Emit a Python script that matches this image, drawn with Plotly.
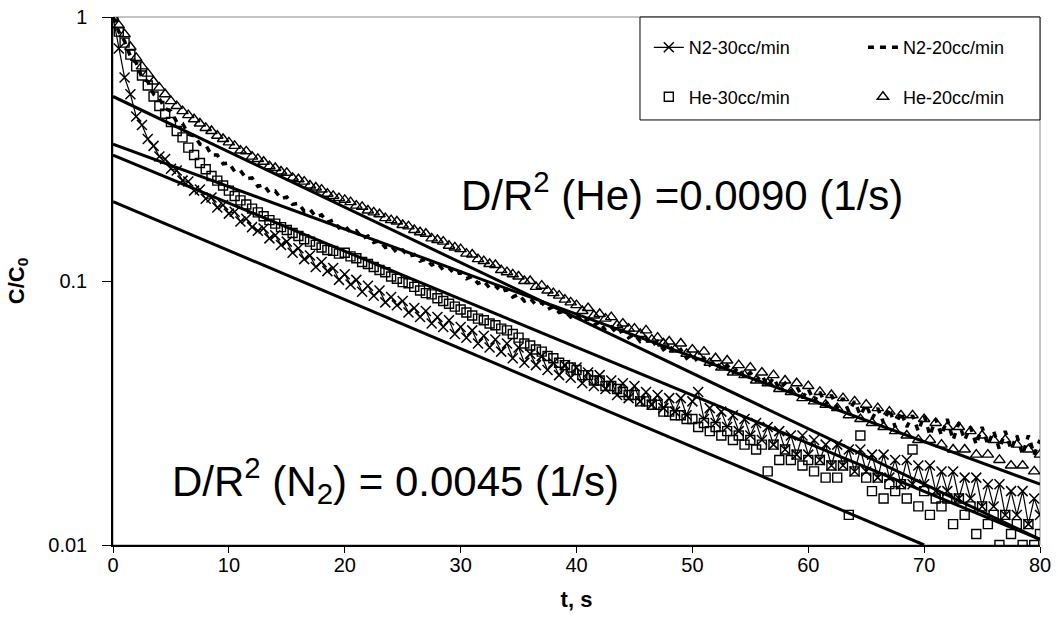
import plotly.graph_objects as go

# ---------------- data ----------------
t = [0, 0.5, 1, 1.5, 2, 2.5, 3, 3.5, 4, 4.5, 5, 5.5, 6, 6.5, 7, 7.5, 8, 8.5, 9, 9.5,
     10, 10.5, 11, 11.5, 12, 12.5, 13, 13.5, 14, 14.5, 15, 15.5, 16, 16.5, 17, 17.5, 18, 18.5, 19, 19.5,
     20, 20.5, 21, 21.5, 22, 22.5, 23, 23.5, 24, 24.5, 25, 25.5, 26, 26.5, 27, 27.5, 28, 28.5, 29, 29.5,
     30, 30.5, 31, 31.5, 32, 32.5, 33, 33.5, 34, 34.5, 35, 35.5, 36, 36.5, 37, 37.5, 38, 38.5, 39, 39.5,
     40, 40.5, 41, 41.5, 42, 42.5, 43, 43.5, 44, 44.5, 45, 45.5, 46, 46.5, 47, 47.5, 48, 48.5, 49, 49.5,
     50, 50.5, 51, 51.5, 52, 52.5, 53, 53.5, 54, 54.5, 55, 55.5, 56, 56.5, 57, 57.5, 58, 58.5, 59, 59.5,
     60, 60.5, 61, 61.5, 62, 62.5, 63, 63.5, 64, 64.5, 65, 65.5, 66, 66.5, 67, 67.5, 68, 68.5, 69, 69.5,
     70, 70.5, 71, 71.5, 72, 72.5, 73, 73.5, 74, 74.5, 75, 75.5, 76, 76.5, 77, 77.5, 78, 78.5, 79, 79.5,
     80]

n2_30 = [1.00, 0.76, 0.59, 0.51, 0.42, 0.39, 0.345, 0.325, 0.296, 0.29,
         0.266, 0.262, 0.24, 0.238, 0.22, 0.222, 0.205, 0.207, 0.19, 0.194,
         0.18, 0.183, 0.168, 0.172, 0.16, 0.155, 0.158, 0.145, 0.149, 0.137,
         0.141, 0.128, 0.133, 0.121, 0.125, 0.113, 0.118, 0.109, 0.112, 0.101,
         0.106, 0.097, 0.101, 0.091, 0.096, 0.088, 0.092, 0.083, 0.087, 0.081,
         0.084, 0.076, 0.079, 0.073, 0.077, 0.069, 0.073, 0.067, 0.071, 0.063,
         0.067, 0.061, 0.065, 0.058, 0.062, 0.056, 0.060, 0.054, 0.058, 0.051,
         0.056, 0.049, 0.053, 0.048, 0.052, 0.046, 0.049, 0.044, 0.048, 0.043,
         0.047, 0.041, 0.045, 0.040, 0.044, 0.039, 0.042, 0.037, 0.041, 0.036,
         0.040, 0.035, 0.038, 0.034, 0.037, 0.033, 0.036, 0.032, 0.036, 0.031,
         0.035, 0.038, 0.030, 0.033, 0.029, 0.032, 0.028, 0.031, 0.027, 0.030,
         0.026, 0.029, 0.025, 0.028, 0.024, 0.027, 0.023, 0.026, 0.022, 0.026,
         0.022, 0.025, 0.021, 0.024, 0.020, 0.024, 0.020, 0.023, 0.019, 0.023,
         0.019, 0.022, 0.018, 0.022, 0.018, 0.021, 0.017, 0.021, 0.017, 0.020,
         0.017, 0.020, 0.016, 0.019, 0.016, 0.019, 0.015, 0.018, 0.015, 0.018,
         0.014, 0.017, 0.014, 0.017, 0.013, 0.016, 0.013, 0.016, 0.012, 0.015,
         0.013]

n2_20 = [1.00, 0.88, 0.81, 0.71, 0.67, 0.59, 0.57, 0.51, 0.49, 0.45,
         0.44, 0.40, 0.395, 0.36, 0.355, 0.33, 0.327, 0.30, 0.30, 0.278,
         0.28, 0.26, 0.262, 0.244, 0.246, 0.228, 0.232, 0.216, 0.219, 0.205,
         0.208, 0.195, 0.197, 0.184, 0.187, 0.175, 0.178, 0.167, 0.17, 0.159,
         0.162, 0.153, 0.155, 0.145, 0.148, 0.14, 0.142, 0.134, 0.136, 0.128,
         0.131, 0.124, 0.126, 0.119, 0.121, 0.115, 0.117, 0.11, 0.112, 0.106,
         0.108, 0.102, 0.104, 0.098, 0.1, 0.094, 0.096, 0.091, 0.093, 0.087,
         0.089, 0.084, 0.086, 0.081, 0.083, 0.078, 0.08, 0.076, 0.077, 0.073,
         0.075, 0.07, 0.072, 0.068, 0.07, 0.065, 0.067, 0.063, 0.065, 0.061,
         0.063, 0.059, 0.061, 0.057, 0.059, 0.055, 0.057, 0.053, 0.055, 0.051,
         0.053, 0.049, 0.051, 0.048, 0.05, 0.046, 0.048, 0.045, 0.047, 0.043,
         0.045, 0.042, 0.044, 0.04, 0.043, 0.039, 0.041, 0.038, 0.04, 0.036,
         0.039, 0.035, 0.038, 0.034, 0.037, 0.033, 0.036, 0.032, 0.035, 0.031,
         0.034, 0.03, 0.033, 0.029, 0.033, 0.028, 0.032, 0.028, 0.031, 0.027,
         0.031, 0.026, 0.03, 0.026, 0.03, 0.025, 0.029, 0.025, 0.028, 0.024,
         0.028, 0.024, 0.027, 0.023, 0.027, 0.023, 0.026, 0.022, 0.026, 0.022,
         0.025]

he_30 = [1.00, 0.88, 0.80, 0.72, 0.65, 0.60, 0.55, 0.50, 0.46, 0.43,
         0.40, 0.37, 0.35, 0.32, 0.30, 0.28, 0.265, 0.25, 0.24, 0.23,
         0.22, 0.21, 0.202, 0.195, 0.188, 0.182, 0.176, 0.17, 0.165, 0.16,
         0.156, 0.152, 0.148, 0.144, 0.141, 0.137, 0.134, 0.131, 0.130, 0.127,
         0.128, 0.124, 0.122, 0.118, 0.116, 0.113, 0.110, 0.108, 0.104, 0.102,
         0.099, 0.098, 0.095, 0.092, 0.090, 0.089, 0.086, 0.084, 0.082, 0.080,
         0.078, 0.076, 0.074, 0.072, 0.071, 0.069, 0.068, 0.066, 0.065, 0.063,
         0.061, 0.058, 0.057, 0.055, 0.054, 0.052, 0.051, 0.049, 0.048, 0.047,
         0.046, 0.044, 0.044, 0.042, 0.042, 0.040, 0.040, 0.039, 0.038, 0.037,
         0.037, 0.035, 0.035, 0.034, 0.034, 0.032, 0.032, 0.031, 0.031, 0.030,
         0.030, 0.028, 0.029, 0.027, 0.028, 0.026, 0.027, 0.025, 0.026, 0.024,
         0.025, 0.023, 0.024, 0.019, 0.024, 0.021, 0.023, 0.021, 0.022, 0.020,
         0.021, 0.019, 0.021, 0.018, 0.020, 0.018, 0.020, 0.013, 0.019, 0.026,
         0.018, 0.016, 0.018, 0.015, 0.017, 0.016, 0.017, 0.015, 0.023, 0.014,
         0.016, 0.013, 0.015, 0.014, 0.015, 0.012, 0.015, 0.013, 0.014, 0.011,
         0.014, 0.012, 0.013, 0.010, 0.013, 0.011, 0.012, 0.010, 0.012, 0.010,
         0.011]

he_20 = [1.00, 0.93, 0.86, 0.77, 0.70, 0.65, 0.61, 0.57, 0.54, 0.51,
         0.48, 0.46, 0.44, 0.425, 0.41, 0.395, 0.38, 0.37, 0.355, 0.345,
         0.335, 0.325, 0.312, 0.31, 0.296, 0.29, 0.283, 0.272, 0.268, 0.26,
         0.257, 0.246, 0.243, 0.238, 0.23, 0.226, 0.222, 0.214, 0.21, 0.206,
         0.203, 0.199, 0.193, 0.191, 0.185, 0.182, 0.179, 0.173, 0.17, 0.168,
         0.163, 0.161, 0.156, 0.153, 0.151, 0.145, 0.143, 0.141, 0.136, 0.134,
         0.132, 0.127, 0.126, 0.121, 0.119, 0.116, 0.115, 0.11, 0.108, 0.106,
         0.104, 0.1, 0.1, 0.095, 0.096, 0.092, 0.09, 0.088, 0.085, 0.083,
         0.081, 0.077, 0.079, 0.074, 0.075, 0.072, 0.073, 0.068, 0.069, 0.066,
         0.066, 0.063, 0.065, 0.060, 0.061, 0.058, 0.059, 0.055, 0.058, 0.053,
         0.055, 0.052, 0.054, 0.049, 0.051, 0.047, 0.050, 0.045, 0.048, 0.044,
         0.047, 0.042, 0.045, 0.041, 0.044, 0.039, 0.042, 0.038, 0.041, 0.036,
         0.040, 0.035, 0.038, 0.034, 0.037, 0.033, 0.036, 0.031, 0.035, 0.030,
         0.034, 0.029, 0.033, 0.028, 0.032, 0.027, 0.031, 0.026, 0.031, 0.025,
         0.030, 0.025, 0.029, 0.024, 0.028, 0.023, 0.028, 0.023, 0.027, 0.022,
         0.026, 0.022, 0.025, 0.021, 0.025, 0.020, 0.024, 0.020, 0.023, 0.019,
         0.022]

# straight-line fits (start / end points)
fit_t0 = [0, 0, 0, 0]
fit_t1 = [80, 80, 80, 70]
fit_c0 = [0.5, 0.33, 0.30, 0.20]
fit_c1 = [0.0105, 0.017, 0.0105, 0.010]

x_ticks = [0, 10, 20, 30, 40, 50, 60, 70, 80]
y_ticks = [0.01, 0.1, 1]
y_tick_text = ["0.01", "0.1", "1"]

FONT = "Liberation Sans, Arial, sans-serif"

fig = go.Figure()

for a, b, c, d in zip(fit_t0, fit_t1, fit_c0, fit_c1):
    fig.add_trace(go.Scatter(x=[a, b], y=[c, d], mode="lines",
                             line=dict(color="black", width=3),
                             showlegend=False, hoverinfo="skip"))

fig.add_trace(go.Scatter(x=t, y=he_30, mode="markers", name="He-30cc/min",
                         marker=dict(symbol="square-open", size=9, color="black",
                                     line=dict(width=1.4, color="black")),
                         legend="legend", legendgroup="b", legendrank=2))
fig.add_trace(go.Scatter(x=t, y=he_20, mode="markers", name="He-20cc/min",
                         marker=dict(symbol="triangle-up-open", size=10, color="black",
                                     line=dict(width=1.4, color="black")),
                         legend="legend2", legendgroup="d", legendrank=2))
fig.add_trace(go.Scatter(x=t, y=n2_20, mode="lines", name="N2-20cc/min",
                         line=dict(color="black", width=3.5, dash="6px,6px"),
                         legend="legend2", legendgroup="c", legendrank=1))
fig.add_trace(go.Scatter(x=t, y=n2_30, mode="lines+markers", name="N2-30cc/min",
                         line=dict(color="black", width=1.2),
                         marker=dict(symbol="x-thin-open", size=10, color="black",
                                     line=dict(width=1.5, color="black")),
                         legend="legend", legendgroup="a", legendrank=1))

fig.update_layout(
    width=1058, height=630,
    margin=dict(l=113, r=18, t=17, b=85),
    paper_bgcolor="white", plot_bgcolor="white",
    font=dict(family=FONT, color="black", size=20),
    xaxis=dict(range=[0, 80], tickvals=x_ticks, ticks="outside", ticklen=6,
               tickcolor="black", showline=True, linecolor="black", linewidth=1.5,
               showgrid=False, zeroline=False, tickfont=dict(size=20), automargin=False,
               ticklabelstandoff=-5, ticklabeloverflow="allow",
               title=dict(text="<b>t, s</b>", font=dict(size=22), standoff=17)),
    yaxis=dict(type="log", range=[-2, 0], tickvals=y_ticks, ticktext=y_tick_text,
               ticks="outside", ticklen=9, tickcolor="black", showline=True,
               linecolor="black", linewidth=1.5, showgrid=False, zeroline=False,
               tickfont=dict(size=20), ticklabelstandoff=11, automargin=False,
               ticklabeloverflow="allow",
               title=dict(text="<b>C/C<sub>0</sub></b>", font=dict(size=22), standoff=18)),
    legend=dict(x=0.578, y=0.977, xanchor="left", yanchor="top", orientation="v",
                bgcolor="rgba(0,0,0,0)", font=dict(size=18), tracegroupgap=23,
                traceorder="grouped"),
    legend2=dict(x=0.809, y=0.977, xanchor="left", yanchor="top", orientation="v",
                 bgcolor="rgba(0,0,0,0)", font=dict(size=18), tracegroupgap=23,
                 traceorder="grouped"),
    showlegend=True,
)

fig.add_shape(type="rect", xref="paper", yref="paper", x0=0, x1=1, y0=0, y1=1,
              line=dict(color="#888888", width=1), layer="below")
fig.add_shape(type="rect", xref="paper", yref="paper", x0=0.5685, x1=1.0, y0=0.805, y1=1.0,
              line=dict(color="black", width=1), fillcolor="white", layer="below")

fig.add_annotation(text="D/R<sup>2</sup> (He) =0.0090 (1/s)", xref="paper", yref="paper",
                   x=0.373, y=0.669, xanchor="left", yanchor="middle", showarrow=False,
                   font=dict(size=42, family=FONT))
fig.add_annotation(text="D/R<sup>2</sup> (N<sub>2</sub>) = 0.0045 (1/s)", xref="paper", yref="paper",
                   x=0.0615, y=0.123, xanchor="left", yanchor="middle", showarrow=False,
                   font=dict(size=42, family=FONT))

# remove the default 8 px page margin so the figure fills the window exactly
fig.write_html("out.html", config={"displayModeBar": False},
               post_script="document.body.style.margin='0px';")
